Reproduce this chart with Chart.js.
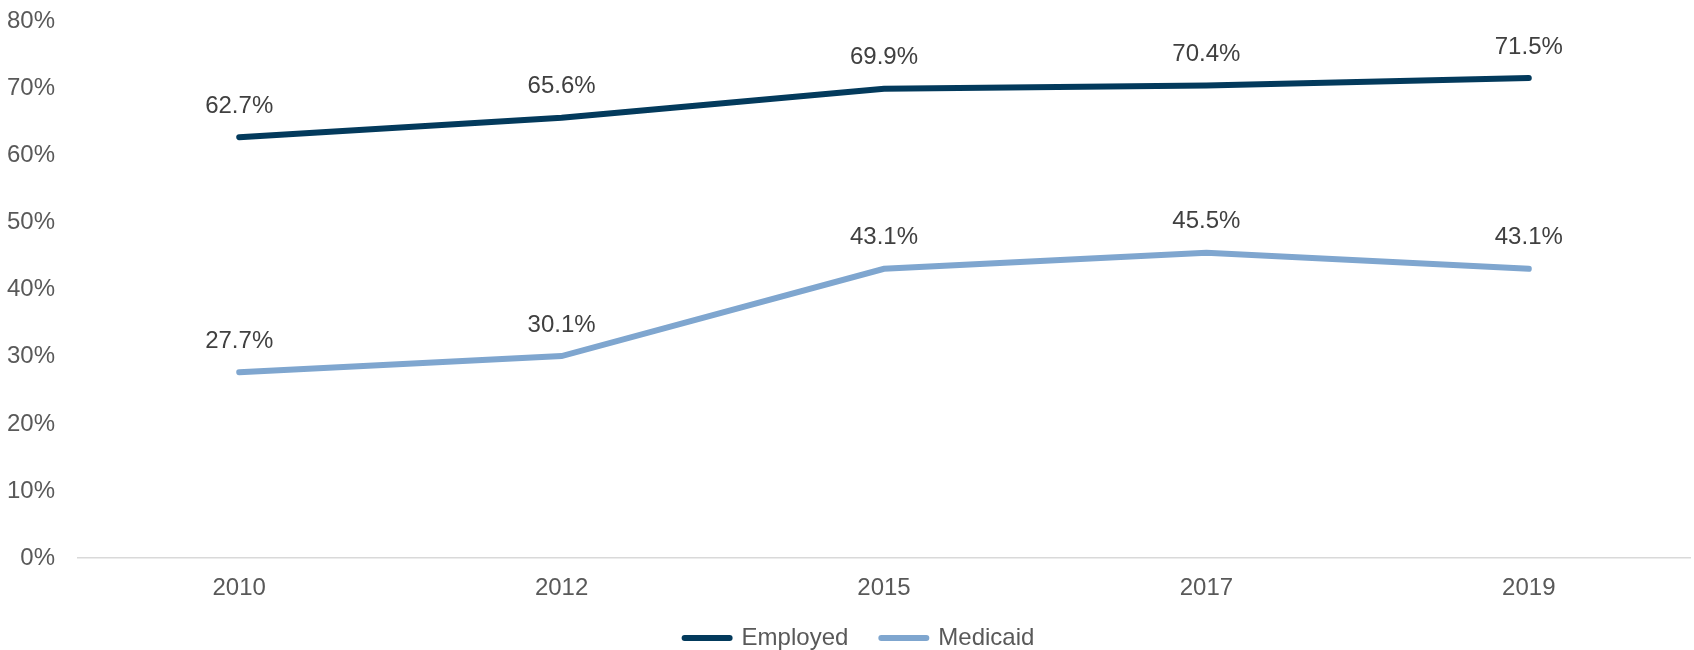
<!DOCTYPE html>
<html>
<head>
<meta charset="utf-8">
<script src="https://cdn.jsdelivr.net/npm/chart.js@4/dist/chart.umd.min.js"></script>
<style>
  html, body { margin: 0; padding: 0; background: #fff; }
  #wrap { width: 1694px; height: 650px; }
</style>
</head>
<body>
<div id="wrap"><canvas id="chart"></canvas></div>
<script>
const years = ['2010', '2012', '2015', '2017', '2019']
const employed = [62.7, 65.6, 69.9, 70.4, 71.5]
const medicaid = [27.7, 30.1, 43.1, 45.5, 43.1]

const FONT = '"Liberation Sans", Arial, sans-serif'
const TEXT = '#595959'

// percent labels above every point
const pointLabels = {
  id: 'pointLabels',
  afterDatasetsDraw(chart) {
    const ctx = chart.ctx
    ctx.save()
    ctx.font = '24px ' + FONT
    ctx.fillStyle = '#404040'
    ctx.textAlign = 'center'
    ctx.textBaseline = 'middle'
    chart.data.datasets.forEach((ds, i) => {
      chart.getDatasetMeta(i).data.forEach((pt, j) => {
        ctx.fillText(ds.data[j].toFixed(1) + '%', pt.x, pt.y - 31)
      })
    })
    ctx.restore()
  },
}

// legend row under the axis: round-capped line swatch + series name
const lineLegend = {
  id: 'lineLegend',
  afterDraw(chart) {
    const ctx = chart.ctx
    const swatch = 51, gapText = 9, gapItem = 30, y = 638
    ctx.save()
    ctx.font = '24px ' + FONT
    ctx.textBaseline = 'middle'
    const items = chart.data.datasets.map((ds) => ({
      text: ds.label,
      color: ds.borderColor,
      w: ctx.measureText(ds.label).width,
    }))
    const total = items.reduce((s, it) => s + swatch + gapText + it.w, 0) + gapItem * (items.length - 1)
    let x = chart.width / 2 + 11 - total / 2
    items.forEach((it) => {
      ctx.strokeStyle = it.color
      ctx.lineWidth = 6
      ctx.lineCap = 'round'
      ctx.beginPath()
      ctx.moveTo(x + 3, y)
      ctx.lineTo(x + swatch - 3, y)
      ctx.stroke()
      ctx.fillStyle = TEXT
      ctx.textAlign = 'left'
      ctx.fillText(it.text, x + swatch + gapText, y)
      x += swatch + gapText + it.w + gapItem
    })
    ctx.restore()
  },
}

new Chart(document.getElementById('chart'), {
  type: 'line',
  data: {
    labels: years,
    datasets: [
      {
        label: 'Employed',
        data: employed,
        borderColor: '#033a5c',
        backgroundColor: '#033a5c',
        borderWidth: 6,
        borderCapStyle: 'round',
        pointRadius: 0,
        tension: 0,
      },
      {
        label: 'Medicaid',
        data: medicaid,
        borderColor: '#7fa6cf',
        backgroundColor: '#7fa6cf',
        borderWidth: 6,
        borderCapStyle: 'round',
        pointRadius: 0,
        tension: 0,
      },
    ],
  },
  options: {
    responsive: true,
    maintainAspectRatio: false,
    animation: false,
    layout: { padding: { top: 21, left: 0, right: 4, bottom: 31 } },
    scales: {
      x: {
        offset: true,
        grid: { display: false, drawTicks: false },
        border: { display: true, color: '#d9d9d9', width: 1.5 },
        ticks: { color: TEXT, font: { family: FONT, size: 24 }, padding: 16 },
      },
      y: {
        min: 0,
        max: 80,
        grid: { display: false, drawTicks: false },
        border: { display: false },
        ticks: {
          stepSize: 10,
          color: TEXT,
          font: { family: FONT, size: 24 },
          padding: 23,
          callback: (v) => v + '%',
        },
        afterFit(scale) {
          scale.width = 78
          scale.paddingTop = 0
        },
      },
    },
    plugins: {
      tooltip: { enabled: false },
      legend: { display: false },
    },
  },
  plugins: [pointLabels, lineLegend],
})
</script>
</body>
</html>
